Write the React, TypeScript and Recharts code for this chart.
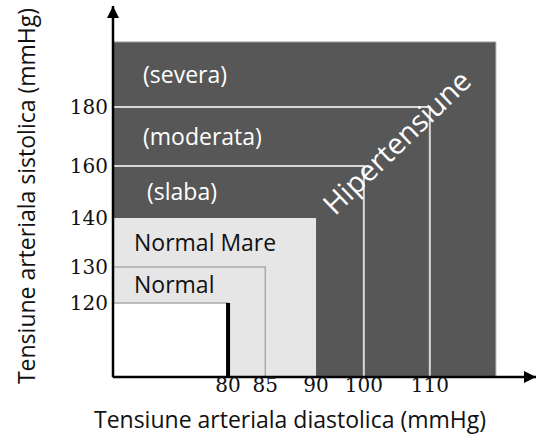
import { ComposedChart, XAxis, YAxis, ReferenceArea, ReferenceLine, ReferenceDot } from 'recharts'

// tick values (mmHg)
const diastolicTicks = [80, 85, 90, 100, 110]
const systolicTicks = [120, 130, 140, 160, 180]

// axis extents and the outer edge of the hypertension block
const diastolicDomain = [60, 130]
const systolicDomain = [100, 220]
const hyperDiastolic = 120
const hyperSystolic = 200

// stages: label, systolic band, diastolic upper limit
const stageLabels = ['(severa)', '(moderata)', '(slaba)', 'Normal Mare', 'Normal']
const stageSysFrom = [180, 160, 140, 130, 120]
const stageSysTo = [200, 180, 160, 140, 130]
const stageDiaTo = [120, 110, 100, 90, 85]

// optimal corner
const optimalDiastolic = 80
const optimalSystolic = 120

const stageRows = stageLabels.map((name, i) => ({ name, dia: stageDiaTo[i], sys: stageSysTo[i] }))

// the drawing is schematic, so the axes use a piecewise scale
// (stop value -> share of the axis length)
function schematicScale(stops: number[], shares: number[]) {
  let dom: number[] = [stops[0], stops[stops.length - 1]]
  let rng: number[] = [0, 1]
  const scale: any = (v: number) => {
    let i = 0
    while (i < stops.length - 2 && v > stops[i + 1]) i++
    const t = (v - stops[i]) / (stops[i + 1] - stops[i])
    const f = shares[i] + t * (shares[i + 1] - shares[i])
    return rng[0] + f * (rng[rng.length - 1] - rng[0])
  }
  scale.domain = (d?: number[]) => {
    if (d === undefined) return dom
    dom = d
    return scale
  }
  scale.range = (r?: number[]) => {
    if (r === undefined) return rng
    rng = r
    return scale
  }
  scale.copy = () => schematicScale(stops, shares).domain(dom).range(rng)
  scale.ticks = () => stops
  return scale
}

const xScale = schematicScale(
  [60, 80, 85, 90, 100, 110, 120, 130],
  [0, 0.272, 0.36, 0.48, 0.593, 0.749, 0.905, 1]
)
const yScale = schematicScale(
  [100, 120, 130, 140, 160, 180, 200, 220],
  [0, 0.1995, 0.2965, 0.4286, 0.5687, 0.7278, 0.903, 1]
)

const sans = 'Open Sans, Noto Sans, sans-serif'
const serif = 'DejaVu Serif, serif'

const XTitle = () => (
  <text x={290} y={428} textAnchor="middle" fontFamily={sans} fontSize={23} fill="#111">
    Tensiune arteriala diastolica (mmHg)
  </text>
)

const YTitle = () => (
  <text x={35} y={196} transform="rotate(-90, 35, 196)" textAnchor="middle" fontFamily={sans} fontSize={23} fill="#111">
    Tensiune arteriala sistolica (mmHg)
  </text>
)

export default function App() {
  const [dMin] = diastolicDomain
  const [sMin] = systolicDomain
  return (
    <div style={{ position: 'absolute', left: 0, top: 0, width: 552, height: 435, background: '#fff' }}>
      <svg width={0} height={0} style={{ position: 'absolute' }}>
        <defs>
          <marker
            id="axisArrow"
            viewBox="0 0 10 10"
            refX={10}
            refY={5}
            markerWidth={17}
            markerHeight={12}
            markerUnits="userSpaceOnUse"
            orient="auto-start-reverse"
          >
            <path d="M0,0 L10,5 L0,10 z" fill="#000" />
          </marker>
        </defs>
      </svg>
      <ComposedChart width={552} height={435} data={stageRows} margin={{ top: 6, right: 16, bottom: 0, left: 0 }}>
        {/* hypertension block */}
        <ReferenceArea
          x1={dMin}
          x2={hyperDiastolic}
          y1={sMin}
          y2={hyperSystolic}
          fill="#575757"
          fillOpacity={1}
          stroke="#9a9a9a"
          strokeWidth={1}
        />
        {/* normal-high block */}
        <ReferenceArea x1={dMin} x2={stageDiaTo[3]} y1={sMin} y2={stageSysTo[3]} fill="#e6e6e6" fillOpacity={1} />
        {/* stage outlines inside the hypertension block */}
        {[1, 2].map((i) => (
          <ReferenceArea
            key={'o' + i}
            x1={dMin}
            x2={stageDiaTo[i]}
            y1={sMin}
            y2={stageSysTo[i]}
            fill="none"
            stroke="#d8d8d8"
            strokeWidth={2}
          />
        ))}
        <ReferenceArea x1={dMin} x2={stageDiaTo[4]} y1={sMin} y2={stageSysTo[4]} fill="none" stroke="#aaaaaa" strokeWidth={1.5} />
        <ReferenceArea
          x1={dMin}
          x2={optimalDiastolic}
          y1={sMin}
          y2={optimalSystolic}
          fill="#ffffff"
          fillOpacity={1}
          stroke="#aaaaaa"
          strokeWidth={1.5}
        />
        <ReferenceLine
          segment={[
            { x: optimalDiastolic, y: sMin },
            { x: optimalDiastolic, y: optimalSystolic },
          ]}
          stroke="#000"
          strokeWidth={4}
        />
        {/* stage labels */}
        {stageLabels.map((label, i) => (
          <ReferenceArea
            key={label}
            x1={dMin}
            x2={stageDiaTo[i]}
            y1={stageSysFrom[i]}
            y2={stageSysTo[i]}
            fill="none"
            stroke="none"
            label={{
              value: label,
              position: 'insideLeft',
              offset: i === 2 ? 34 : i < 3 ? 30 : 21,
              fill: i < 3 ? '#ffffff' : '#111111',
              fontFamily: sans,
              fontSize: 23,
            }}
          />
        ))}
        <ReferenceDot
          x={105}
          y={168}
          r={0}
          fill="none"
          stroke="none"
          label={{ value: 'Hipertensiune', position: 'center', angle: -44, fill: '#ffffff', fontFamily: sans, fontSize: 29 }}
        />
        <XAxis
          type="number"
          dataKey="dia"
          domain={diastolicDomain}
          allowDataOverflow
          scale={xScale}
          ticks={diastolicTicks}
          interval={0}
          height={58}
          tickLine={false}
          tickSize={0}
          tickMargin={1}
          axisLine={{ stroke: '#000', strokeWidth: 2.5, markerEnd: 'url(#axisArrow)' }}
          tick={{ fill: '#111', fontSize: 20, fontFamily: serif }}
          label={{ content: XTitle }}
        />
        <YAxis
          type="number"
          dataKey="sys"
          domain={systolicDomain}
          allowDataOverflow
          scale={yScale}
          ticks={systolicTicks}
          interval={0}
          width={113}
          tickLine={false}
          tickSize={0}
          tickMargin={5}
          axisLine={{ stroke: '#000', strokeWidth: 2.5, markerStart: 'url(#axisArrow)' }}
          tick={{ fill: '#111', fontSize: 20, fontFamily: serif }}
          label={{ content: YTitle }}
        />
      </ComposedChart>
    </div>
  )
}
